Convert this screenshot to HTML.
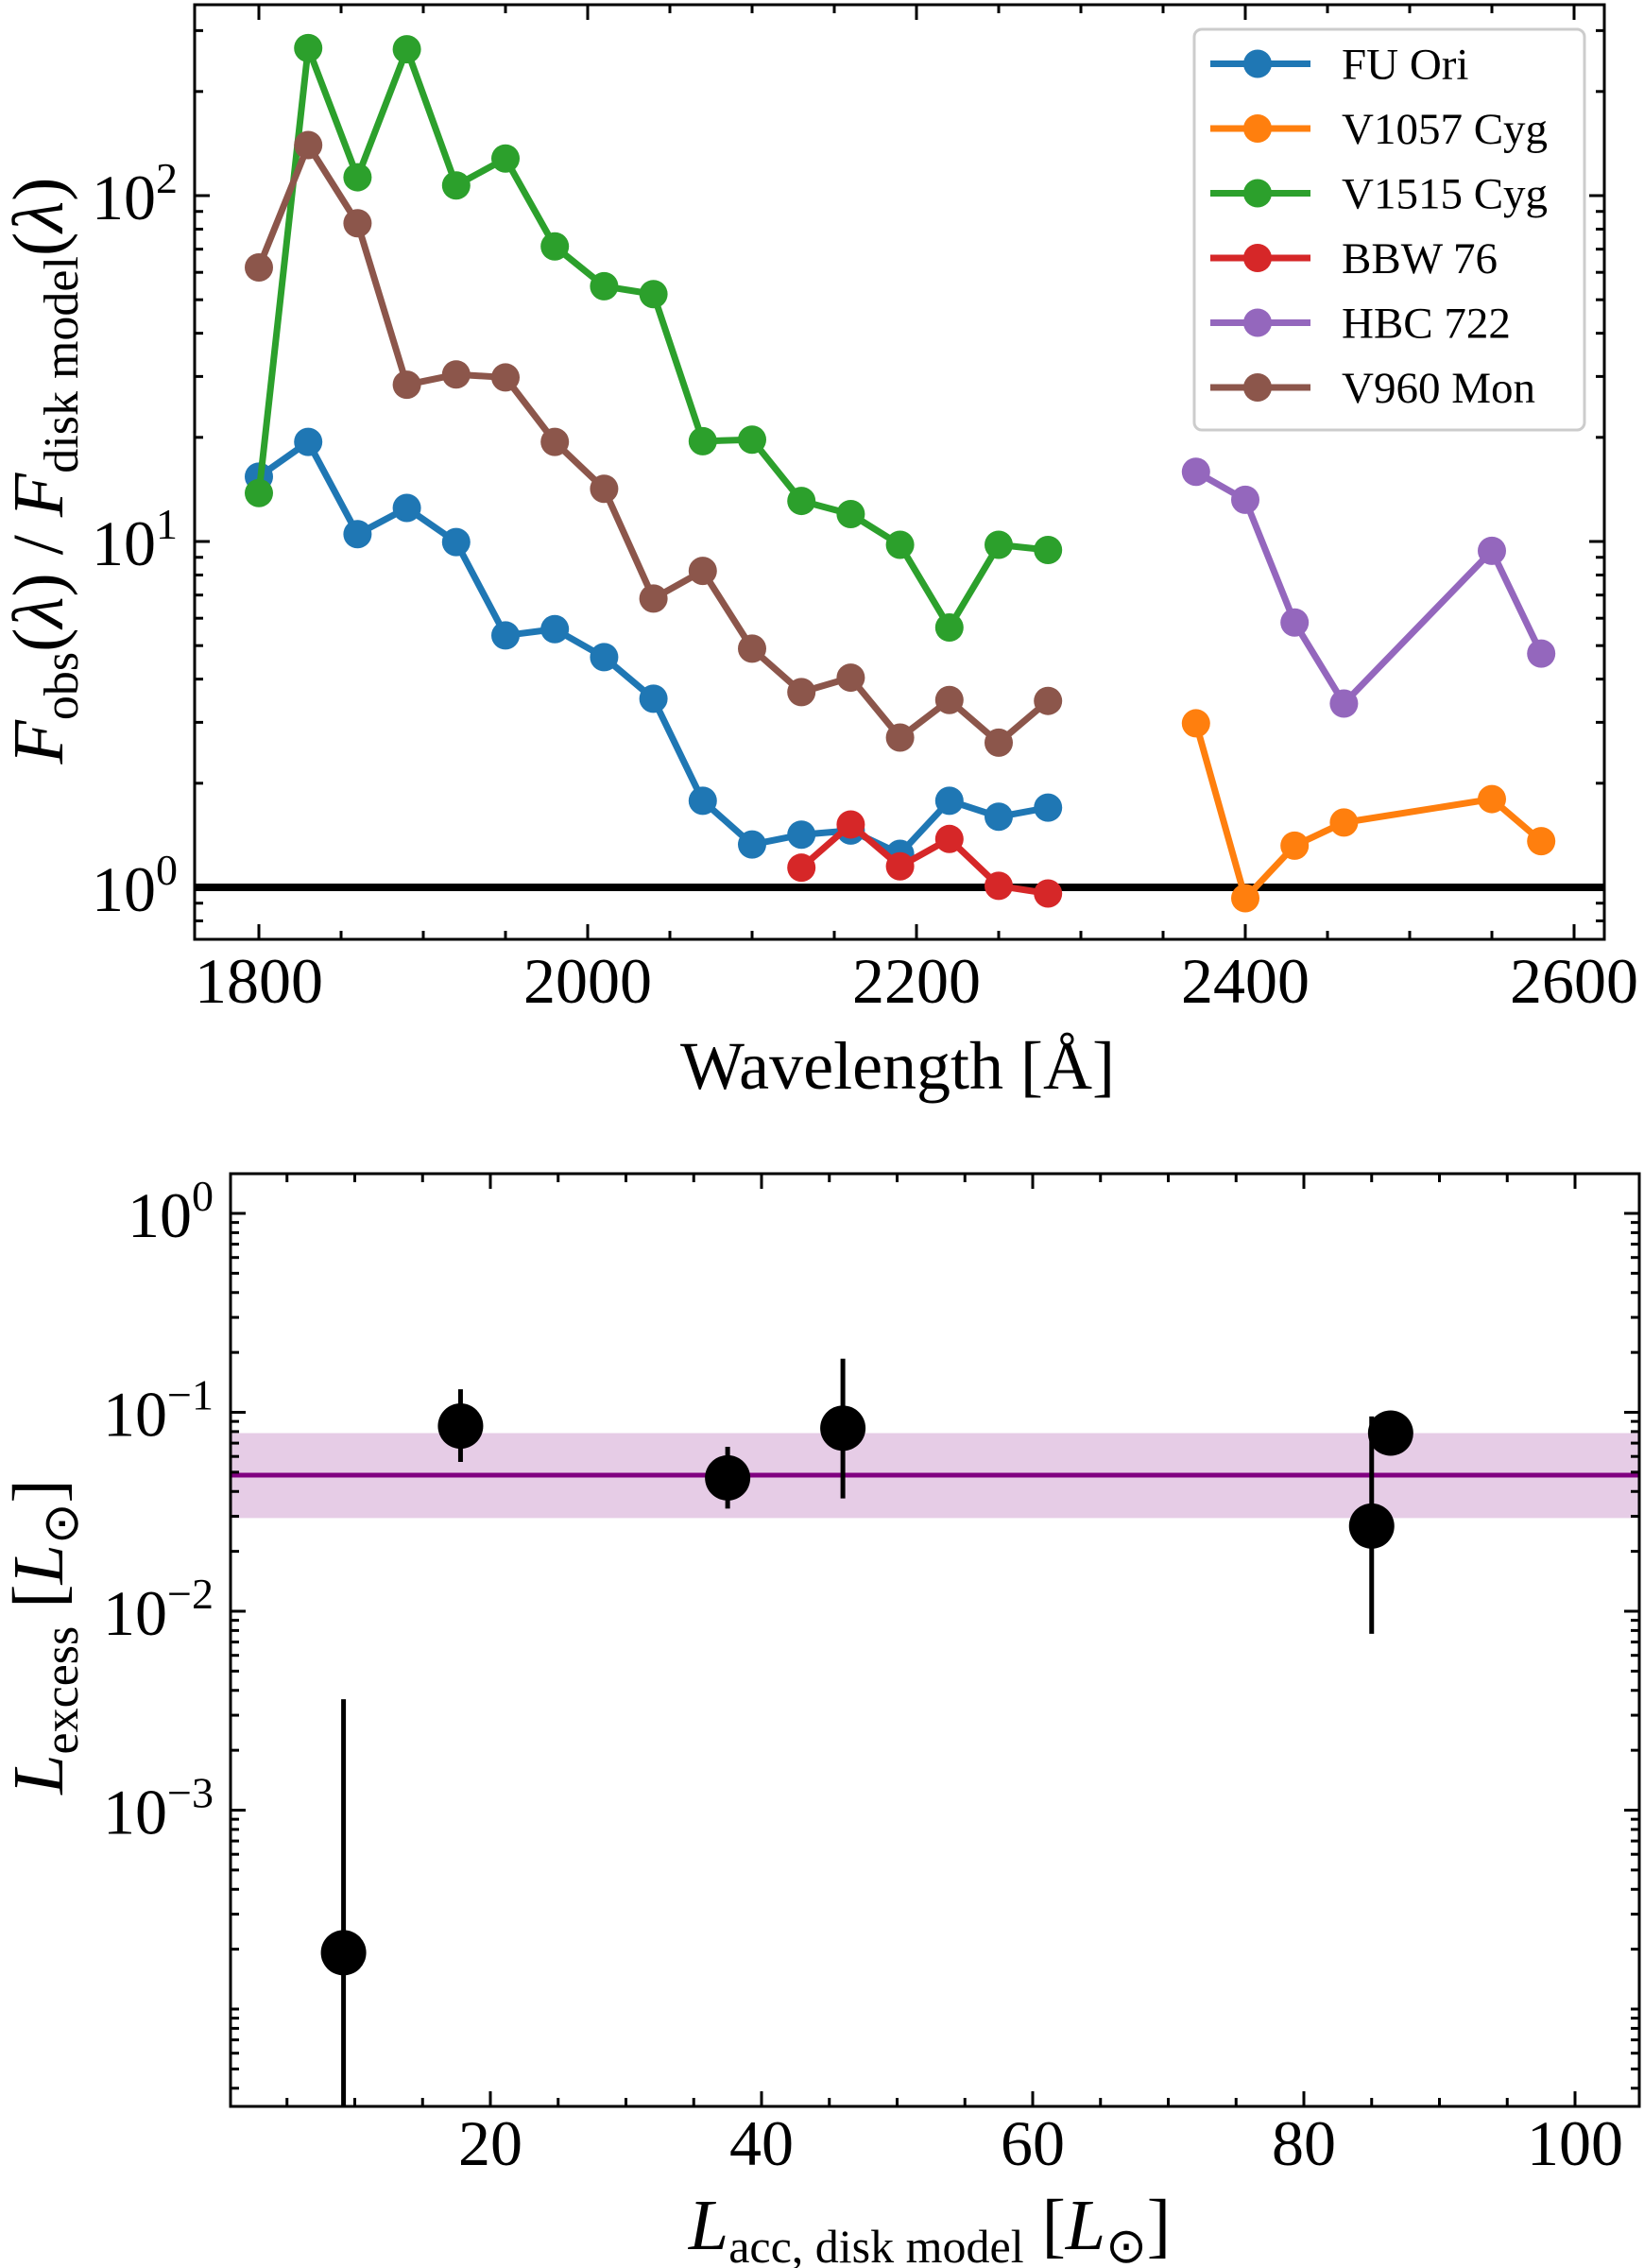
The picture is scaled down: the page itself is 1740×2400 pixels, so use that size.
<!DOCTYPE html>
<html><head><meta charset="utf-8"><style>
html,body{margin:0;padding:0;background:#fff;}
svg{display:block;font-family:"Liberation Serif",serif;}
</style></head><body>
<svg id="fig" width="1740" height="2400" viewBox="0 0 1740 2400" xmlns="http://www.w3.org/2000/svg">
<g id="top"></g>
<g id="bot"></g>
</svg>
<script>
// ---- Top chart data ----
const waveBlue = [1800,1830,1860,1890,1920,1950,1980,2010,2040,2070,2100,2130,2160,2190,2220,2250,2280];
const fuOri   = [15.4,19.4,10.5,12.5,9.96,5.35,5.58,4.63,3.51,1.78,1.33,1.42,1.46,1.25,1.78,1.60,1.70];
const v1515   = [13.8,267,113,265,107,128,71.3,54.7,51.9,19.5,19.7,13.1,12.0,9.78,5.64,9.78,9.45];
const v960    = [62,140,83.2,28.4,30.4,29.8,19.4,14.2,6.84,8.22,4.90,3.67,4.04,2.71,3.48,2.62,3.46];
const waveBBW = [2130,2160,2190,2220,2250,2280];
const bbw76   = [1.14,1.52,1.15,1.38,1.01,0.96];
const waveRed = [2370,2400,2430,2460,2550,2580];
const v1057   = [2.98,0.93,1.32,1.54,1.80,1.36];
const hbc722  = [15.9,13.2,5.83,3.40,9.40,4.74];
const seriesNames = ["FU Ori","V1057 Cyg","V1515 Cyg","BBW 76","HBC 722","V960 Mon"];
const xTicksTop = [1800,2000,2200,2400,2600];
const yDecadesTop = [0,1,2];
// ---- Bottom chart data ----
const lAcc    = [9.17,17.8,37.5,46.0,85.0,86.4];
const lExcess = [1.92e-4,0.0853,0.0468,0.0832,0.0268,0.0786];
const errLow  = [1e-5,0.0563,0.0328,0.0369,0.0077,0.0786];
const errHigh = [3.61e-3,0.1306,0.0671,0.186,0.0953,0.0786];
const meanLine = [0.0483];
const bandLow = [0.0294];
const bandHigh = [0.0786];
const xTicksBot = [20,40,60,80,100];
const yDecadesBot = [0,-1,-2,-3];

const NS="http://www.w3.org/2000/svg";
function mk(parent,tag,attrs){const e=document.createElementNS(NS,tag);for(const k in attrs)e.setAttribute(k,attrs[k]);parent.appendChild(e);return e;}

// ===== TOP =====
const T=document.getElementById('top');
const tL=206,tR=1698,tT=5,tB=994;
const tx=w=>274+(w-1800)*1.74;
const ty=v=>939-366*Math.log10(v);
const cols={"FU Ori":"#1f77b4","V1057 Cyg":"#ff7f0e","V1515 Cyg":"#2ca02c","BBW 76":"#d62728","HBC 722":"#9467bd","V960 Mon":"#8c564b"};
let e=mk(T,'line',{x1:tL,x2:tR,y1:ty(1),y2:ty(1),stroke:'#000','stroke-width':8});


function drawSeries(g,xs,ys,color,name){
  const pts=xs.map((x,i)=>tx(x)+','+ty(ys[i])).join(' ');
  let pl=mk(g,'polyline',{points:pts,fill:'none',stroke:color,'stroke-width':7,'stroke-linejoin':'round'});
  
  
  xs.forEach((x,i)=>{
    let c=mk(g,'circle',{cx:tx(x),cy:ty(ys[i]),r:15,fill:color});
    
    
  });
}
drawSeries(T,waveBlue,fuOri,cols["FU Ori"],'fu-ori');
drawSeries(T,waveRed,v1057,cols["V1057 Cyg"],'v1057-cyg');
drawSeries(T,waveBlue,v1515,cols["V1515 Cyg"],'v1515-cyg');
drawSeries(T,waveBBW,bbw76,cols["BBW 76"],'bbw-76');
drawSeries(T,waveRed,hbc722,cols["HBC 722"],'hbc-722');
drawSeries(T,waveBlue,v960,cols["V960 Mon"],'v960-mon');
e=mk(T,'rect',{x:tL,y:tT,width:tR-tL,height:tB-tT,fill:'none',stroke:'#000','stroke-width':3});


for(let w=1750;w<=2650;w+=50){const x=tx(w);if(x<tL||x>tR)continue;const maj=w%200===0;const L=maj?16:9;
  mk(T,'line',{x1:x,x2:x,y1:tB,y2:tB-L,stroke:'#000','stroke-width':3});
  mk(T,'line',{x1:x,x2:x,y1:tT,y2:tT+L,stroke:'#000','stroke-width':3});}
xTicksTop.forEach(w=>{let t=mk(T,'text',{x:tx(w),y:1061,'font-size':68,'text-anchor':'middle'});t.textContent=w;
  
  });
for(let d=-1;d<=2;d++){for(let m=1;m<=9;m++){const v=m*Math.pow(10,d);const y=ty(v);if(y<tT||y>tB)continue;const L=m===1?16:9;
  mk(T,'line',{x1:tL,x2:tL+L,y1:y,y2:y,stroke:'#000','stroke-width':3});
  mk(T,'line',{x1:tR,x2:tR-L,y1:y,y2:y,stroke:'#000','stroke-width':3});}}
yDecadesTop.forEach(d=>{let t=mk(T,'text',{x:188,y:ty(Math.pow(10,d))+25,'font-size':68,'text-anchor':'end'});
  t.innerHTML='10<tspan dy="-28" font-size="46">'+d+'</tspan>';
  
  });
e=mk(T,'rect',{x:1264,y:31,width:413,height:424,rx:8,fill:'#fff','fill-opacity':0.85,stroke:'#ccc','stroke-width':3});


seriesNames.forEach((n,i)=>{const y=67.5+i*68.5;const g=mk(T,'g',{});
  
  
  mk(g,'line',{x1:1281,x2:1387,y1:y,y2:y,stroke:cols[n],'stroke-width':7});
  mk(g,'circle',{cx:1331,cy:y,r:15,fill:cols[n]});
  let t=mk(g,'text',{x:1420,y:y+16,'font-size':47});t.textContent=n;});
e=mk(T,'text',{x:950,y:1152,'font-size':72,'text-anchor':'middle'});e.textContent='Wavelength [Å]';


e=mk(T,'text',{x:0,y:0,'font-size':76,'text-anchor':'middle',transform:'translate(66,498) rotate(-90)'});
e.innerHTML='<tspan font-style="italic">F</tspan><tspan font-size="52" dy="16">obs</tspan><tspan dy="-16">(</tspan><tspan font-style="italic">λ</tspan>) / <tspan font-style="italic">F</tspan><tspan font-size="52" dy="16">disk  model</tspan><tspan dy="-16">(</tspan><tspan font-style="italic">λ</tspan>)';



// ===== BOTTOM =====
const B=document.getElementById('bot');
const bL=244,bR=1735,bT=1242,bB=2229;
const bx=v=>232+v*14.35;
const by=v=>1284-210.5*Math.log10(v);
const clipY=y=>Math.min(bB,Math.max(bT,y));
e=mk(B,'rect',{x:bL,y:by(bandHigh[0]),width:bR-bL,height:by(bandLow[0])-by(bandHigh[0]),fill:'#800080','fill-opacity':0.2});


e=mk(B,'line',{x1:bL,x2:bR,y1:by(meanLine[0]),y2:by(meanLine[0]),stroke:'#800080','stroke-width':5});


lAcc.forEach((v,i)=>{const g=mk(B,'g',{});
  
  
  mk(g,'line',{x1:bx(v),x2:bx(v),y1:clipY(by(errLow[i])),y2:clipY(by(errHigh[i])),stroke:'#000','stroke-width':5});
  mk(g,'circle',{cx:bx(v),cy:by(lExcess[i]),r:24,fill:'#000'});});
e=mk(B,'rect',{x:bL,y:bT,width:bR-bL,height:bB-bT,fill:'none',stroke:'#000','stroke-width':3});


for(let v=5;v<=105;v+=5){const x=bx(v);if(x<bL||x>bR)continue;const L=v%20===0?16:9;
  mk(B,'line',{x1:x,x2:x,y1:bB,y2:bB-L,stroke:'#000','stroke-width':3});
  mk(B,'line',{x1:x,x2:x,y1:bT,y2:bT+L,stroke:'#000','stroke-width':3});}
xTicksBot.forEach(v=>{let t=mk(B,'text',{x:bx(v),y:2291,'font-size':68,'text-anchor':'middle'});t.textContent=v;
  
  });
for(let d=-5;d<=0;d++){for(let m=1;m<=9;m++){const v=m*Math.pow(10,d);const y=by(v);if(y<bT||y>bB)continue;const L=(m===1&&d>=-3)?16:9;
  mk(B,'line',{x1:bL,x2:bL+L,y1:y,y2:y,stroke:'#000','stroke-width':3});
  mk(B,'line',{x1:bR,x2:bR-L,y1:y,y2:y,stroke:'#000','stroke-width':3});}}
yDecadesBot.forEach(d=>{let t=mk(B,'text',{x:226,y:by(Math.pow(10,d))+25,'font-size':68,'text-anchor':'end'});
  t.innerHTML='10<tspan dy="-28" font-size="46">'+(d<0?'−'+(-d):d)+'</tspan>';
  
  });
e=mk(B,'text',{x:984,y:2380,'font-size':76,'text-anchor':'middle'});
e.innerHTML='<tspan font-style="italic">L</tspan><tspan font-size="50" dy="14">acc,  disk  model</tspan><tspan dy="-14"> [</tspan><tspan font-style="italic">L</tspan><tspan font-size="52" dy="14">⊙</tspan><tspan dy="-14">]</tspan>';


e=mk(B,'text',{x:0,y:0,'font-size':76,'text-anchor':'middle',transform:'translate(66,1732) rotate(-90)'});
e.innerHTML='<tspan font-style="italic">L</tspan><tspan font-size="52" dy="16">excess</tspan><tspan dy="-16">  [</tspan><tspan font-style="italic">L</tspan><tspan font-size="52" dy="16">⊙</tspan><tspan dy="-16">]</tspan>';


</script>
</body></html>
